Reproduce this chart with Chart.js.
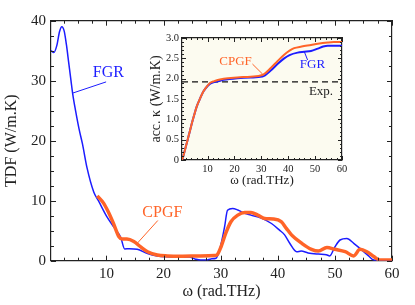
<!DOCTYPE html>
<html>
<head>
<meta charset="utf-8">
<script src="https://cdn.jsdelivr.net/npm/chart.js@4.4.0/dist/chart.umd.min.js"></script>
<style>
  html, body { margin: 0; padding: 0; background: #fff; }
  #wrap { position: relative; width: 415px; height: 305px; }
  #inset { position: absolute; left: 140px; top: 28px; }
</style>
</head>
<body>
<div id="wrap">
  <canvas id="main" width="415" height="305"></canvas>
  <canvas id="inset" width="212" height="162"></canvas>
</div>
<script>
// main panel: thermal distribution function
const fgrW = [0.3, 0.8, 1.3, 1.8, 2.2, 2.6, 3.0, 3.4, 3.8, 4.1, 4.6, 5.2, 5.8, 6.6, 7.8, 8.6, 10.1, 11.3, 12.5, 13.2, 14.0, 15.4, 17.2, 18.9, 20.5, 22.5, 24.5, 25.5, 26.5, 27.5, 28.3, 29.2, 30.1, 30.7, 31.2, 32.1, 33.0, 34.2, 35.3, 37.1, 38.9, 40.3, 41.2, 42.1, 43.3, 44.1, 45.3, 47.1, 48.5, 49.1, 50.0, 50.9, 52.1, 53.3, 54.7, 55.9, 56.8, 58, 60];
const fgrTdf = [35.0, 34.7, 35.8, 38.2, 39.0, 38.3, 36.0, 33.0, 30.0, 27.8, 25.0, 22.0, 19.5, 15.5, 11.4, 10.0, 7.3, 5.6, 3.9, 1.95, 2.0, 1.9, 1.2, 0.8, 0.65, 0.6, 0.6, 0.3, 0.1, 0.1, 0.3, 0.4, 2.9, 5.7, 8.4, 8.7, 8.45, 7.9, 7.6, 7.1, 6.2, 5.1, 4.3, 2.9, 1.5, 1.6, 1.3, 1.1, 1.0, 0.8, 2.3, 3.45, 3.7, 2.9, 1.8, 0.8, 0.1, 0, 0];

const cpgfW = [8.4, 9.5, 10.3, 11.2, 12.2, 12.8, 13.6, 14.8, 16.0, 17.2, 18.9, 20.7, 23.0, 26.5, 28.9, 29.4, 30.1, 30.9, 31.8, 33.0, 34.2, 35.3, 36.5, 37.7, 39.2, 40.6, 41.5, 42.4, 44.2, 45.9, 47.1, 48.6, 50.0, 51.8, 53.3, 54.4, 55.6, 56.8, 57.9, 60];
const cpgfTdf = [10.8, 9.6, 8.2, 6.3, 4.0, 3.6, 3.6, 3.2, 2.3, 1.5, 0.95, 0.8, 0.75, 0.8, 0.85, 1.0, 2.4, 4.6, 6.5, 7.6, 8.05, 8.05, 7.6, 7.05, 6.95, 6.5, 5.4, 4.3, 2.9, 1.9, 1.6, 2.2, 1.9, 1.5, 0.8, 1.9, 1.5, 0.7, 0.1, 0.1];

const mainXTicks = [10, 20, 30, 40, 50, 60];
const mainYTicks = [0, 10, 20, 30, 40];

// inset: accumulated conductivity
const kCpgfW = [0.5, 1, 2, 3, 4, 5, 6, 7, 8.5, 10, 11, 12.5, 13.5, 16, 21, 26, 30.4, 33.5, 36, 38.5, 40.5, 42.2, 45, 48.5, 51, 54.7, 57, 60];
const kCpgf = [0, 0.1, 0.35, 0.6, 0.86, 1.1, 1.32, 1.48, 1.69, 1.83, 1.9, 1.94, 1.96, 2.0, 2.03, 2.05, 2.09, 2.26, 2.43, 2.59, 2.69, 2.75, 2.79, 2.83, 2.86, 2.89, 2.9, 2.9];
const kFgrW = [0.5, 1, 2, 3, 4, 5, 6, 7, 8.5, 10, 11, 12.5, 13.5, 16, 21, 26, 30.4, 33.5, 36, 38.5, 40.5, 43.5, 46, 48.5, 51, 53, 54.7, 60];
const kFgr = [0, 0.1, 0.35, 0.6, 0.86, 1.1, 1.32, 1.48, 1.69, 1.82, 1.88, 1.92, 1.93, 1.97, 2.01, 2.03, 2.05, 2.2, 2.36, 2.5, 2.58, 2.64, 2.66, 2.68, 2.74, 2.79, 2.81, 2.81];
const kExp = 1.92;

const insetXTicks = [10, 20, 30, 40, 50, 60];
const insetYTicks = [0, 0.5, 1, 1.5, 2, 2.5, 3];

const BLUE = '#1c1cff';
const ORANGE = '#ff6428';
const AXIS = '#222';
const SERIF = '"Liberation Serif", "DejaVu Serif", serif';

function pts(xs, ys) {
    return xs.map((x, i) => ({ x: x, y: ys[i] }));
}

// inward ticks on all four sides
const inTicks = {
    id: 'inTicks',
    afterDraw(chart, args, o) {
        const { ctx, chartArea: a } = chart;
        const sx = chart.scales.x, sy = chart.scales.y;
        ctx.save();
        ctx.strokeStyle = AXIS;
        ctx.lineWidth = 1;
        const mark = (v, len, horiz) => {
            ctx.beginPath();
            if (horiz) {
                const p = Math.round(sx.getPixelForValue(v)) + 0.5;
                ctx.moveTo(p, a.bottom); ctx.lineTo(p, a.bottom - len);
                ctx.moveTo(p, a.top); ctx.lineTo(p, a.top + len);
            } else {
                const p = Math.round(sy.getPixelForValue(v)) + 0.5;
                ctx.moveTo(a.left, p); ctx.lineTo(a.left + len, p);
                ctx.moveTo(a.right, p); ctx.lineTo(a.right - len, p);
            }
            ctx.stroke();
        };
        for (let i = 1; i * o.xMinor <= sx.max + 1e-9; i++) {
            const v = i * o.xMinor;
            if (v < sx.min) continue;
            const major = Math.abs(v / o.xMajor - Math.round(v / o.xMajor)) < 1e-6;
            mark(v, major ? o.majorLen : o.minorLen, true);
        }
        for (let i = 0; i * o.yMinor <= sy.max + 1e-9; i++) {
            const v = i * o.yMinor;
            const major = Math.abs(v / o.yMajor - Math.round(v / o.yMajor)) < 1e-6;
            mark(v, major ? o.majorLen : o.minorLen, false);
        }
        ctx.restore();
    }
};

// text labels with leader lines, placed in data coordinates
const notes = {
    id: 'notes',
    afterDatasetsDraw(chart, args, o) {
        const { ctx } = chart;
        const sx = chart.scales.x, sy = chart.scales.y;
        ctx.save();
        o.items.forEach(n => {
            ctx.fillStyle = n.color;
            ctx.font = o.font;
            ctx.textAlign = 'center';
            ctx.textBaseline = 'middle';
            ctx.fillText(n.text, sx.getPixelForValue(n.at[0]), sy.getPixelForValue(n.at[1]));
            if (n.from) {
                ctx.strokeStyle = n.color;
                ctx.lineWidth = 1;
                ctx.beginPath();
                ctx.moveTo(sx.getPixelForValue(n.from[0]), sy.getPixelForValue(n.from[1]));
                ctx.lineTo(sx.getPixelForValue(n.to[0]), sy.getPixelForValue(n.to[1]));
                ctx.stroke();
            }
        });
        ctx.restore();
    }
};

const areaFill = {
    id: 'areaFill',
    beforeDraw(chart, args, o) {
        if (!o.color) return;
        const { ctx, chartArea: a } = chart;
        ctx.save();
        ctx.fillStyle = o.color;
        ctx.fillRect(a.left, a.top, a.right - a.left, a.bottom - a.top);
        ctx.restore();
    }
};

function axes(cfg) {
    const tickFont = { family: SERIF, size: cfg.tickSize };
    const titleFont = { family: SERIF, size: cfg.titleSize };
    return {
        x: {
            type: 'linear', position: 'bottom', min: cfg.xMin, max: cfg.xMax,
            grid: { display: false, drawTicks: false },
            border: { color: AXIS, width: 1.2 },
            ticks: { color: AXIS, font: tickFont, padding: cfg.xPad, maxRotation: 0 },
            afterBuildTicks: s => { s.ticks = cfg.xTicks.map(v => ({ value: v })); },
            afterFit: s => { s.height = cfg.bottom; },
            title: { display: true, text: 'ω (rad.THz)', color: AXIS, font: titleFont, padding: cfg.xTitlePad }
        },
        y: {
            type: 'linear', position: 'left', min: cfg.yMin, max: cfg.yMax,
            grid: { display: false, drawTicks: false },
            border: { color: AXIS, width: 1.2 },
            ticks: { color: AXIS, font: tickFont, padding: cfg.yPad },
            afterBuildTicks: s => { s.ticks = cfg.yTicks.map(v => ({ value: v })); },
            afterFit: s => { s.width = cfg.left; },
            title: { display: true, text: cfg.yTitle, color: AXIS, font: { family: SERIF, size: cfg.yTitleSize || cfg.titleSize }, padding: cfg.yTitlePad }
        },
        x2: {
            type: 'linear', axis: 'x', position: 'top', min: cfg.xMin, max: cfg.xMax,
            grid: { display: false, drawTicks: false },
            border: { color: AXIS, width: 1.2 },
            ticks: { display: false },
            afterFit: s => { s.height = cfg.top; }
        },
        y2: {
            type: 'linear', axis: 'y', position: 'right', min: cfg.yMin, max: cfg.yMax,
            grid: { display: false, drawTicks: false },
            border: { color: AXIS, width: 1.2 },
            ticks: { display: false },
            afterFit: s => { s.width = cfg.right; }
        }
    };
}

new Chart(document.getElementById('main'), {
    type: 'line',
    data: {
        datasets: [
            { label: 'CPGF', data: pts(cpgfW, cpgfTdf), borderColor: ORANGE, borderWidth: 3.5, pointRadius: 0, cubicInterpolationMode: 'monotone', order: 0 },
            { label: 'FGR', data: pts(fgrW, fgrTdf), borderColor: BLUE, borderWidth: 1.5, pointRadius: 0, cubicInterpolationMode: 'monotone', order: 1 }
        ]
    },
    options: {
        responsive: false,
        animation: false,
        devicePixelRatio: 1,
        layout: { padding: 0 },
        plugins: {
            legend: { display: false },
            tooltip: { enabled: false },
            inTicks: { xMinor: 2.5, xMajor: 10, yMinor: 2.5, yMajor: 10, majorLen: 5, minorLen: 3 },
            notes: {
                font: '16px ' + SERIF,
                items: [
                    { text: 'FGR', color: BLUE, at: [10.35, 31.4], from: [9.95, 29.8], to: [4.14, 27.95] },
                    { text: 'CPGF', color: ORANGE, at: [19.8, 8.0], from: [19.0, 6.7], to: [15.4, 2.9] }
                ]
            }
        },
        scales: axes({
            xMin: 0.3, xMax: 60, yMin: 0, yMax: 40,
            xTicks: mainXTicks, yTicks: mainYTicks,
            tickSize: 15, titleSize: 16,
            left: 51, right: 23, top: 20.7, bottom: 44.3,
            xPad: 4, yPad: 5,
            xTitlePad: { top: 0, bottom: 4 }, yTitlePad: { top: 2, bottom: 0 },
            yTitle: 'TDF (W/m.K)'
        })
    },
    plugins: [inTicks, notes]
});

new Chart(document.getElementById('inset'), {
    type: 'line',
    data: {
        datasets: [
            { label: 'Exp.', data: [{ x: 0.5, y: kExp }, { x: 60, y: kExp }], borderColor: '#111', borderWidth: 1.2, borderDash: [6, 4], pointRadius: 0, order: 2 },
            { label: 'CPGF', data: pts(kCpgfW, kCpgf), borderColor: ORANGE, borderWidth: 2, pointRadius: 0, cubicInterpolationMode: 'monotone', order: 0 },
            { label: 'FGR', data: pts(kFgrW, kFgr), borderColor: BLUE, borderWidth: 2, pointRadius: 0, cubicInterpolationMode: 'monotone', order: 1 }
        ]
    },
    options: {
        responsive: false,
        animation: false,
        devicePixelRatio: 1,
        layout: { padding: 0 },
        plugins: {
            legend: { display: false },
            tooltip: { enabled: false },
            areaFill: { color: '#fcfbf0' },
            inTicks: { xMinor: 2, xMajor: 10, yMinor: 0.1, yMajor: 0.5, majorLen: 4, minorLen: 2 },
            notes: {
                font: '13px ' + SERIF,
                items: [
                    { text: 'CPGF', color: ORANGE, at: [20.4, 2.43], from: [26.7, 2.36], to: [30.5, 2.11] },
                    { text: 'FGR', color: BLUE, at: [49, 2.34], from: [47.2, 2.46], to: [46, 2.66] },
                    { text: 'Exp.', color: '#222', at: [52.2, 1.68] }
                ]
            }
        },
        scales: axes({
            xMin: 0.5, xMax: 60, yMin: 0, yMax: 3,
            xTicks: insetXTicks, yTicks: insetYTicks,
            tickSize: 10.5, titleSize: 13, yTitleSize: 14,
            left: 42, right: 10, top: 10, bottom: 30,
            xPad: 3, yPad: 3,
            xTitlePad: { top: 0, bottom: 2 }, yTitlePad: { top: 8, bottom: 0 },
            yTitle: 'acc. κ (W/m.K)'
        })
    },
    plugins: [areaFill, inTicks, notes]
});
</script>
</body>
</html>
